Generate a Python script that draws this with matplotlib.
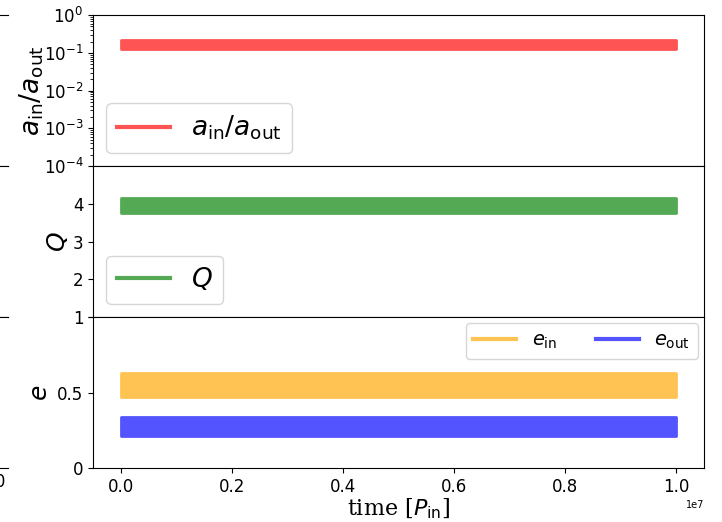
import matplotlib
matplotlib.use("Agg")
import matplotlib.pyplot as plt
from matplotlib.colors import to_rgb
from matplotlib.lines import Line2D

# time axis (in inner periods)
t = [0.0, 1.0e7]

# band extents (min / max) of each oscillating quantity
ratio_lo = [0.13, 0.13]
ratio_hi = [0.215, 0.215]
q_lo = [3.76, 3.76]
q_hi = [4.15, 4.15]
ein_lo = [0.47, 0.47]
ein_hi = [0.63, 0.63]
eout_lo = [0.21, 0.21]
eout_hi = [0.335, 0.335]

ALPHA = 0.67
TICK_FS = 12


def faded(name):
    # colour at ALPHA over white, as an opaque colour
    return tuple(ALPHA * c + (1 - ALPHA) for c in to_rgb(name))


def band(ax, lo, hi, color):
    ax.fill_between(t, lo, hi, color=faded(color), lw=2.0,
                    edgecolor=faded(color), joinstyle="round")


def handle(color):
    return Line2D([], [], color=faded(color), lw=3)


fig = plt.figure(figsize=(7.22, 5.22), dpi=100)
left, right, top, bottom = 0.129, 0.975, 0.971, 0.1034
h = (top - bottom) / 3

axes = []
for i in range(3):
    ax = fig.add_axes([left, top - (i + 1) * h, right - left, h],
                      sharex=axes[0] if axes else None)
    axes.append(ax)
ax1, ax2, ax3 = axes

# stray panels of a neighbouring column, cut off by the crop
for i in range(3):
    axl = fig.add_axes([-0.6, top - (i + 1) * h, 0.6111, h])
    axl.spines[["left", "right"]].set_visible(False)
    axl.set_yticks([])
    axl.set_xlim(0, 1)
    if i < 2:
        axl.set_xticks([])
    else:
        axl.set_xticks([0.9637])
        axl.set_xticklabels(["1.0"])
        axl.tick_params(axis="x", labelsize=TICK_FS, length=0)

for ax in axes:
    ax.tick_params(axis="both", labelsize=TICK_FS)

# top: semi-major axis ratio
band(ax1, ratio_lo, ratio_hi, "red")
ax1.set_yscale("log")
ax1.set_ylim(1e-4, 1e0)
ax1.set_yticks([1e-4, 1e-3, 1e-2, 1e-1, 1e0])
ax1.set_ylabel(r"$a_{\rm in}/a_{\rm out}$", fontsize=19, labelpad=-2)
ax1.legend([handle("red")], [r"$a_{\rm in}/a_{\rm out}$"], loc="lower left",
           fontsize=19, borderaxespad=0.5)

# middle: mass ratio
band(ax2, q_lo, q_hi, "green")
ax2.set_ylim(1, 5)
ax2.set_yticks([1, 2, 3, 4])
ax2.set_yticklabels(["", "2", "3", "4"])
ax2.set_ylabel(r"$Q$", fontsize=18, labelpad=2)
ax2.legend([handle("green")], [r"$Q$"], loc="lower left", fontsize=19,
           borderaxespad=0.5)

# bottom: eccentricities
band(ax3, ein_lo, ein_hi, "orange")
band(ax3, eout_lo, eout_hi, "blue")
ax3.set_ylim(0, 1)
ax3.set_yticks([0, 0.5, 1])
ax3.set_yticklabels(["0", "0.5", "1"])
ax3.set_ylabel(r"$e$", fontsize=18, labelpad=4)
ax3.legend([handle("orange"), handle("blue")],
           [r"$e_{\rm in}$", r"$e_{\rm out}$"], loc="upper right", ncol=2,
           fontsize=14, handlelength=2.2, borderaxespad=0.3)

ax3.set_xlim(-0.05e7, 1.05e7)
ax3.set_xticks([0, 0.2e7, 0.4e7, 0.6e7, 0.8e7, 1.0e7])
ax3.set_xlabel(r"time [$P_{\rm in}$]", fontsize=16, family="DejaVu Serif",
               labelpad=1)
ax3.xaxis.get_offset_text().set_fontsize(7)

for ax in (ax1, ax2):
    ax.tick_params(axis="x", bottom=False, labelbottom=False)

fig.savefig("out.png", dpi=100)
